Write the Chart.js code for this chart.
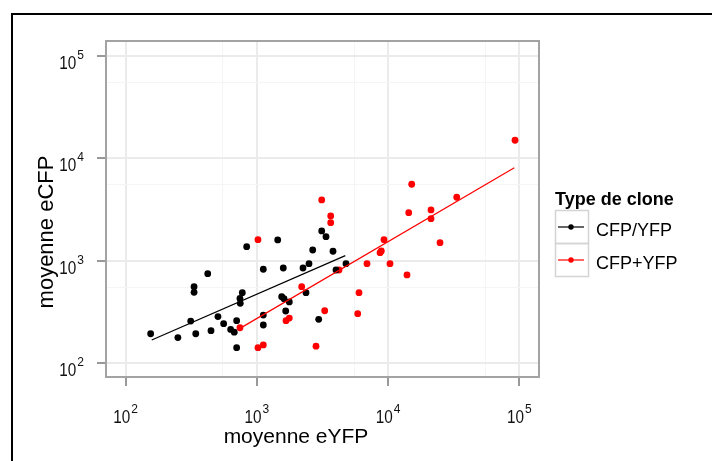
<!DOCTYPE html>
<html>
<head>
<meta charset="utf-8">
<script src="https://cdn.jsdelivr.net/npm/chart.js@4/dist/chart.umd.min.js"></script>
<style>
  html, body { margin: 0; padding: 0; background: #fff; }
  #wrap { width: 712px; height: 461px; }
</style>
</head>
<body>
<div id="wrap"><canvas id="myChart" width="712" height="461"></canvas></div>
<script>
/* Données */
const cloneTypes = ['CFP/YFP', 'CFP+YFP'];
const cloneColors = ['#000000', '#ff0000'];

// CFP/YFP (noir)
const cfpYfpX = [155, 250, 342, 313, 332, 332, 422, 447, 505, 558, 631, 672, 701, 701, 836, 774, 747, 743,
  1119, 1441, 1119, 1119, 1589, 1545, 1609, 1766, 1658, 2367, 2246, 2495, 2663, 2958, 3118, 3363, 3802, 4009, 4777];
const cfpYfpY = [193, 177, 193, 257, 557, 491, 746, 207, 284, 242, 213, 200, 259, 141, 1370, 487, 383, 427,
  824, 1594, 294, 235, 848, 445, 425, 395, 322, 487, 848, 935, 1272, 267, 1951, 1716, 1236, 811, 935];

// CFP+YFP (rouge)
const cfpPlusYfpX = [1019, 743, 1019, 1119, 1667, 1766, 2195, 2822, 3118, 3652, 3652, 4226, 3287, 6000, 5866,
  6906, 10340, 13930, 9307, 8680, 8880, 24870, 15130, 33340, 21230, 14360, 21230, 92720];
const cfpPlusYfpY = [1605, 221, 141, 150, 259, 275, 557, 146, 3921, 2735, 2352, 811, 324, 487, 303,
  935, 935, 725, 1605, 1197, 1244, 1499, 5582, 4166, 3130, 2946, 2573, 15030];

// droites de régression (extrémités)
const fitCfpYfpX = [158, 4720];
const fitCfpYfpY = [168, 1119];
const fitCfpPlusYfpX = [721, 91600];
const fitCfpPlusYfpY = [213, 8110];

const majorTicks = [100, 1000, 10000, 100000];
const minorTicks = [550, 5500, 55000];

const xTitle = 'moyenne eYFP';
const yTitle = 'moyenne eCFP';
const legendTitle = 'Type de clone';

const FONT = '"Liberation Sans", Arial, sans-serif';

function toPoints(xs, ys) {
  return xs.map((x, i) => ({ x: x, y: ys[i] }));
}

function isMajor(v) {
  return majorTicks.includes(v);
}

function setTicks(scale) {
  scale.ticks = majorTicks.concat(minorTicks).sort((a, b) => a - b).map(v => ({ value: v }));
}

/* "10" + exposant */
function drawPower(ctx, exp, x, y, align) {
  ctx.font = '18px ' + FONT;
  const base = ctx.measureText('10').width * 0.85;
  ctx.font = '12px ' + FONT;
  const sup = ctx.measureText(String(exp)).width;
  const total = base + 1 + sup;
  const left = align === 'right' ? x - total : x - total / 2;
  ctx.save();
  ctx.translate(left, y);
  ctx.scale(0.85, 1);
  ctx.font = '18px ' + FONT;
  ctx.fillText('10', 0, 0);
  ctx.restore();
  ctx.font = '12px ' + FONT;
  ctx.fillText(String(exp), left + base + 1, y - 10);
}

const decorations = {
  id: 'decorations',
  beforeDatasetsDraw(chart) {
    const { ctx, chartArea: a } = chart;
    ctx.save();
    ctx.strokeStyle = '#a3a3a3';
    ctx.lineWidth = 2;
    ctx.strokeRect(a.left, a.top, a.right - a.left, a.bottom - a.top);
    ctx.restore();
  },
  afterDraw(chart) {
    const ctx = chart.ctx;
    const xs = chart.scales.x, ys = chart.scales.y;
    ctx.save();
    ctx.fillStyle = '#111';
    ctx.textBaseline = 'alphabetic';
    ctx.textAlign = 'left';

    majorTicks.forEach(v => {
      drawPower(ctx, Math.round(Math.log10(v)), xs.getPixelForValue(v), 423, 'center');
      drawPower(ctx, Math.round(Math.log10(v)), 84, ys.getPixelForValue(v) + 13, 'right');
    });

    // titres des axes
    ctx.fillStyle = '#000';
    ctx.font = '21px ' + FONT;
    ctx.textAlign = 'center';
    ctx.fillText(xTitle, 296, 443);
    ctx.save();
    ctx.translate(53, 232);
    ctx.rotate(-Math.PI / 2);
    ctx.font = '22px ' + FONT;
    ctx.fillText(yTitle, 0, 0);
    ctx.restore();

    // légende
    ctx.textAlign = 'left';
    ctx.font = 'bold 18px ' + FONT;
    ctx.fillText(legendTitle, 555, 205);
    cloneTypes.forEach((name, i) => {
      const top = 210 + i * 33;
      ctx.strokeStyle = '#d4d4d4';
      ctx.lineWidth = 1.5;
      ctx.strokeRect(555.5, top + 0.5, 33, 33);
      ctx.strokeStyle = cloneColors[i];
      ctx.lineWidth = 1.2;
      ctx.beginPath();
      ctx.moveTo(558, top + 17);
      ctx.lineTo(584, top + 17);
      ctx.stroke();
      ctx.fillStyle = cloneColors[i];
      ctx.beginPath();
      ctx.arc(571, top + 17, 2.7, 0, Math.PI * 2);
      ctx.fill();
      ctx.fillStyle = '#000';
      ctx.font = '18px ' + FONT;
      ctx.fillText(name, 596, top + 26);
    });

    // cadre
    ctx.strokeStyle = '#000';
    ctx.lineWidth = 2;
    ctx.strokeRect(12, 14, 1000, 1000);
    ctx.restore();
  }
};

const gridOpts = {
  color: c => isMajor(c.tick.value) ? '#ebebeb' : '#f5f5f5',
  lineWidth: c => isMajor(c.tick.value) ? 2 : 1,
  drawTicks: true,
  tickLength: 9,
  tickWidth: 1,
  tickColor: c => isMajor(c.tick.value) ? '#333' : 'rgba(0,0,0,0)'
};

new Chart(document.getElementById('myChart'), {
  type: 'scatter',
  data: {
    datasets: [
      {
        label: cloneTypes[0] + ' fit',
        data: toPoints(fitCfpYfpX, fitCfpYfpY),
        showLine: true,
        borderColor: cloneColors[0],
        borderWidth: 1.2,
        pointRadius: 0
      },
      {
        label: cloneTypes[1] + ' fit',
        data: toPoints(fitCfpPlusYfpX, fitCfpPlusYfpY),
        showLine: true,
        borderColor: cloneColors[1],
        borderWidth: 1.2,
        pointRadius: 0
      },
      {
        label: cloneTypes[0],
        data: toPoints(cfpYfpX, cfpYfpY),
        backgroundColor: cloneColors[0],
        borderWidth: 0,
        pointRadius: 3.4
      },
      {
        label: cloneTypes[1],
        data: toPoints(cfpPlusYfpX, cfpPlusYfpY),
        backgroundColor: cloneColors[1],
        borderWidth: 0,
        pointRadius: 3.4
      }
    ]
  },
  options: {
    responsive: false,
    animation: false,
    devicePixelRatio: 1,
    layout: { padding: { left: 106, top: 41, right: 173, bottom: 0 } },
    plugins: {
      legend: { display: false },
      tooltip: { enabled: false }
    },
    scales: {
      x: {
        type: 'logarithmic',
        position: 'bottom',
        min: Math.pow(10, 1.85),
        max: Math.pow(10, 5.15),
        afterBuildTicks: setTicks,
        afterFit: s => { s.height = 84; },
        ticks: { display: false },
        border: { display: false },
        grid: gridOpts
      },
      y: {
        type: 'logarithmic',
        position: 'left',
        min: Math.pow(10, 1.863),
        max: Math.pow(10, 5.147),
        afterBuildTicks: setTicks,
        afterFit: s => { s.width = 0; },
        ticks: { display: false },
        border: { display: false },
        grid: gridOpts
      }
    }
  },
  plugins: [decorations]
});
</script>
</body>
</html>
